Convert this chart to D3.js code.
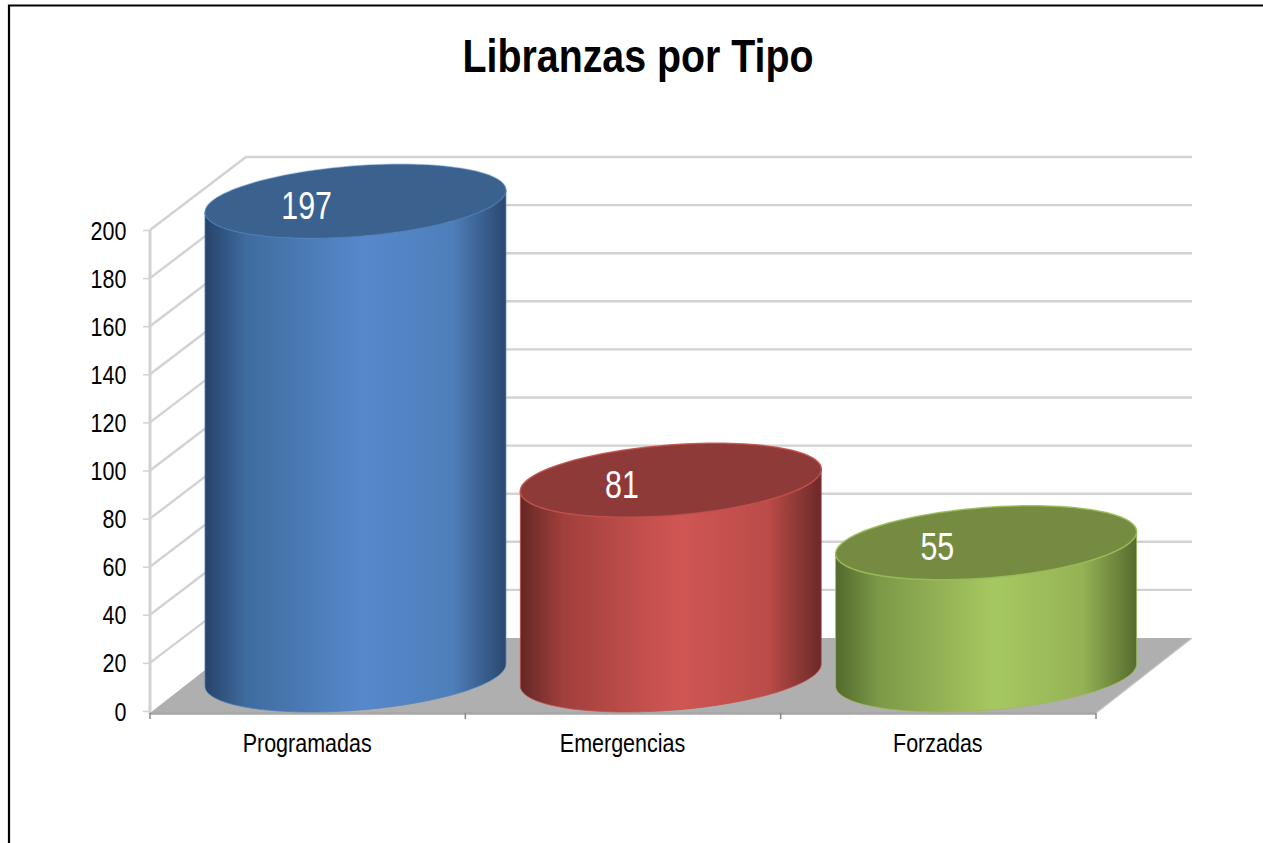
<!DOCTYPE html>
<html><head><meta charset="utf-8">
<script src="https://cdn.jsdelivr.net/npm/d3@7"></script>
<style>html,body{margin:0;padding:0;background:#fff;overflow:hidden}svg{display:block}
text{font-family:"Liberation Sans",Arial,sans-serif}</style>
</head><body><svg id="c" width="1263" height="843"></svg>
<script>
const categories = ["Programadas","Emergencias","Forzadas"];
const values = [197,81,55];
const yTicks = [0,20,40,60,80,100,120,140,160,180,200];
const titleText = "Libranzas por Tipo";
const palettes = [
 {edge:"#4f81bd",top:"#3b618f",stops:["#27436a","#3f6c9f","#4f80bd","#5688cc","#4f7fba","#2a4870"]},
 {edge:"#c0504d",top:"#8e3a38",stops:["#642725","#a03f3c","#c24f4c","#cf5653","#bb4c49","#6b2a28"]},
 {edge:"#9bbb59",top:"#748b41",stops:["#536a2d","#7b9847","#9ab858","#a6c861","#95b255","#566b2e"]}
];
const stopOffsets = [0,.14,.4,.53,.82,1];

const svg = d3.select("#c");
const x = d3.scaleBand().domain(categories).range([150,1096]);
const y = d3.scaleLinear().domain([0,200]).range([711,230]);
const depth = {dx:96,dy:-73};
const right = 1096;

// condensed text helper: no narrow face is installed, so squeeze horizontally
function narrow(sel,px,py,sx){
  return sel.attr("transform",`translate(${px},${py}) scale(${sx},1)`).attr("text-anchor","middle");
}

// page frame
svg.append("path").attr("d","M9,843V5.5H1263").attr("fill","none").attr("stroke","#000").attr("stroke-width",2.2);

// title
narrow(svg.append("text").attr("font-size",46).attr("font-weight","bold").attr("fill","#000").text(titleText),638,72,.855);

// floor
const y0=y(0)+2;
svg.append("path").attr("fill","#afafaf")
  .attr("d",d3.line()([[150,y0],[150+depth.dx,y(0)+depth.dy],[right+depth.dx,y(0)+depth.dy],[right,y0]]));

// walls & gridlines
const grid = svg.append("g").attr("fill","none").attr("stroke","#d2d2d2").attr("stroke-width",2.4);
yTicks.forEach(t=>{
  const yy=y(t);
  if(t>0) grid.append("path").attr("d",d3.line()([[150,yy],[150+depth.dx,yy+depth.dy],[right+depth.dx,yy+depth.dy]]));
  grid.append("line").attr("x1",143).attr("x2",150).attr("y1",yy+.5).attr("y2",yy+.5).attr("stroke-width",1.5);
});
grid.append("line").attr("x1",150).attr("x2",150).attr("y1",y(200)).attr("y2",y0+1).attr("stroke-width",3);

// axis base
const axisG = svg.append("g").attr("stroke","#a6a6a6").attr("stroke-width",2.4).attr("fill","none");
axisG.append("line").attr("x1",150).attr("x2",right).attr("y1",y0+.5).attr("y2",y0+.5);
axisG.append("line").attr("x1",right).attr("x2",right+depth.dx).attr("y1",y0).attr("y2",y(0)+depth.dy).attr("stroke","#c4c4c4").attr("stroke-width",1.2);
[150,...categories.map(c=>x(c)+x.bandwidth())].forEach(px=>{
  axisG.append("line").attr("x1",px).attr("x2",px).attr("y1",y0).attr("y2",y0+6).attr("stroke","#888").attr("stroke-width",1.5);
});

// tick labels
svg.append("g").selectAll("text").data(yTicks).join("text")
  .attr("font-size",25).attr("fill","#000").text(d=>d)
  .each(function(d){ narrow(d3.select(this),126.5-(String(d).length*6),y(d)+9.5,.86); });
svg.append("g").selectAll("text").data(categories).join("text")
  .attr("font-size",25).attr("fill","#000").text(d=>d)
  .each(function(d){ narrow(d3.select(this),x(d)+x.bandwidth()/2-.5,752,.86); });

// cylinders
const rx=143.6, skew=45, ry=37, baseCy=y0-38;
const defs=svg.append("defs");
palettes.forEach((p,i)=>{
  const g=defs.append("linearGradient").attr("id","g"+i).attr("x1",0).attr("x2",1).attr("y1",0).attr("y2",0);
  p.stops.forEach((s,j)=>g.append("stop").attr("offset",stopOffsets[j]).attr("stop-color",s));
});
const angles=d3.range(0,361,3).map(d=>d*Math.PI/180);
const pt=(cx,cy,t)=>[cx+rx*Math.cos(t)+skew*Math.sin(t),cy-ry*Math.sin(t)];
const tR=Math.atan2(skew,rx), tL=tR+Math.PI;
const line=d3.line();
categories.forEach((c,i)=>{
  const cx=x(c)+x.bandwidth()/2+depth.dx/2-.2;
  const h=y(0)-y(values[i]);
  const cyB=baseCy, cyT=baseCy-h;
  const lower=d3.range(0,61).map(k=>tL+k/60*Math.PI);
  const bottomArc=lower.map(t=>pt(cx,cyB,t));
  const body=[...lower.map(t=>pt(cx,cyT,t)).reverse(),...bottomArc];
  svg.append("path").attr("d",line(body)+"Z").attr("fill",`url(#g${i})`)
    .attr("stroke",palettes[i].edge).attr("stroke-width",1).attr("stroke-opacity",.75);
  svg.append("path").attr("d",line(angles.map(t=>pt(cx,cyT,t)))+"Z").attr("fill",palettes[i].top)
    .attr("stroke",palettes[i].edge).attr("stroke-width",1.5).attr("stroke-opacity",i?0.9:0.4);
  narrow(svg.append("text").attr("font-size",38).attr("fill","#fff").text(values[i]),
    x(c)+x.bandwidth()/2-1,cyT+17.5,.8);
});
</script></body></html>
